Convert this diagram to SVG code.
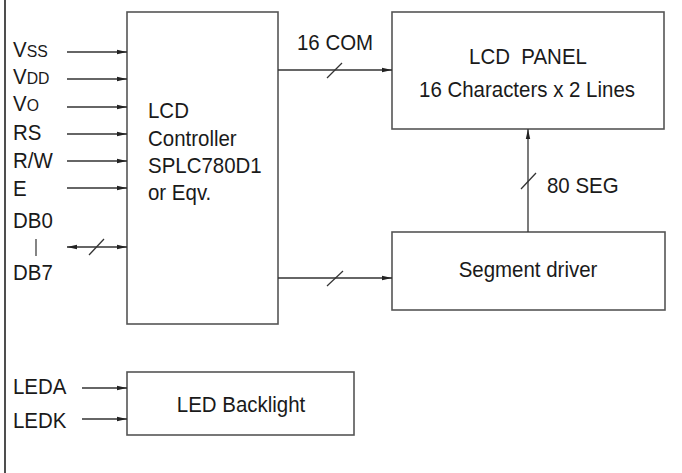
<svg xmlns="http://www.w3.org/2000/svg" width="682" height="473" viewBox="0 0 682 473">
<style>
.box{fill:#fff;stroke:#555;stroke-width:1.6}
.ln{fill:none;stroke:#333;stroke-width:1.3}
.sl{fill:none;stroke:#333;stroke-width:1.2}
text{font-family:"Liberation Sans",Arial,sans-serif;font-size:22px;fill:#1a1a1a}
.sub{font-size:17px}
</style>
<defs>
<marker id="ah" viewBox="0 0 10 6" refX="10" refY="3" markerWidth="10" markerHeight="6" markerUnits="userSpaceOnUse" orient="auto-start-reverse">
<path d="M0,0.8 L10,3 L0,5.2 z" fill="#222"/>
</marker>
</defs>
<rect width="682" height="473" fill="#fff"/>
<line x1="5" y1="0" x2="5" y2="473" stroke="#222" stroke-width="1.6"/>

<g id="controller">
<rect class="box" x="127" y="12" width="151" height="312"/>
<text transform="translate(148,118) scale(0.93,1)">LCD</text>
<text transform="translate(148,146) scale(0.93,1)">Controller</text>
<text transform="translate(148,173) scale(0.93,1)">SPLC780D1</text>
<text transform="translate(148,200) scale(0.93,1)">or Eqv.</text>
</g>

<g id="lcd-panel">
<rect class="box" x="392" y="12" width="272" height="117"/>
<text transform="translate(528,64) scale(0.93,1)" text-anchor="middle" xml:space="preserve">LCD  PANEL</text>
<text transform="translate(527,97) scale(0.93,1)" text-anchor="middle">16 Characters x 2 Lines</text>
</g>

<g id="segment-driver">
<rect class="box" x="392" y="232" width="273" height="78"/>
<text transform="translate(528,277) scale(0.93,1)" text-anchor="middle">Segment driver</text>
</g>

<g id="led-backlight">
<rect class="box" x="127" y="372" width="227" height="63"/>
<text transform="translate(241,412) scale(0.93,1)" text-anchor="middle">LED Backlight</text>
</g>

<g id="labels">
<text transform="translate(13,57) scale(0.93,1)">V<tspan class="sub">SS</tspan></text>
<text transform="translate(13,84) scale(0.93,1)">V<tspan class="sub">DD</tspan></text>
<text transform="translate(13,111) scale(0.93,1)">V<tspan class="sub">O</tspan></text>
<text transform="translate(13,140) scale(0.93,1)">RS</text>
<text transform="translate(13,168) scale(0.93,1)">R/W</text>
<text transform="translate(13,196) scale(0.93,1)">E</text>
<text transform="translate(13,228) scale(0.93,1)">DB0</text>
<line x1="36" y1="239" x2="36" y2="256" stroke="#333" stroke-width="1.2"/>
<text transform="translate(13,280) scale(0.93,1)">DB7</text>
<text transform="translate(13,394) scale(0.93,1)">LEDA</text>
<text transform="translate(13,428) scale(0.93,1)">LEDK</text>
<text transform="translate(297,50) scale(0.93,1)">16 COM</text>
<text transform="translate(547,193) scale(0.93,1)">80 SEG</text>
</g>

<g id="connectors">
<line class="ln" x1="67" y1="52" x2="127" y2="52" marker-end="url(#ah)"/>
<line class="ln" x1="67" y1="79" x2="127" y2="79" marker-end="url(#ah)"/>
<line class="ln" x1="67" y1="107" x2="127" y2="107" marker-end="url(#ah)"/>
<line class="ln" x1="67" y1="134" x2="127" y2="134" marker-end="url(#ah)"/>
<line class="ln" x1="67" y1="161" x2="127" y2="161" marker-end="url(#ah)"/>
<line class="ln" x1="67" y1="188" x2="127" y2="188" marker-end="url(#ah)"/>
<line class="ln" x1="67" y1="247" x2="127" y2="247" marker-start="url(#ah)" marker-end="url(#ah)"/>
<line class="sl" x1="89" y1="255" x2="104" y2="239"/>
<line class="ln" x1="278" y1="70" x2="392" y2="70" marker-end="url(#ah)"/>
<line class="sl" x1="327" y1="78" x2="342" y2="63"/>
<line class="ln" x1="278" y1="278" x2="392" y2="278" marker-end="url(#ah)"/>
<line class="sl" x1="327" y1="286" x2="343" y2="271"/>
<line class="ln" x1="528" y1="232" x2="528" y2="129" marker-end="url(#ah)"/>
<line class="sl" x1="521" y1="189" x2="536" y2="173"/>
<line class="ln" x1="82" y1="388" x2="127" y2="388" marker-end="url(#ah)"/>
<line class="ln" x1="82" y1="419" x2="127" y2="419" marker-end="url(#ah)"/>
</g>
</svg>
